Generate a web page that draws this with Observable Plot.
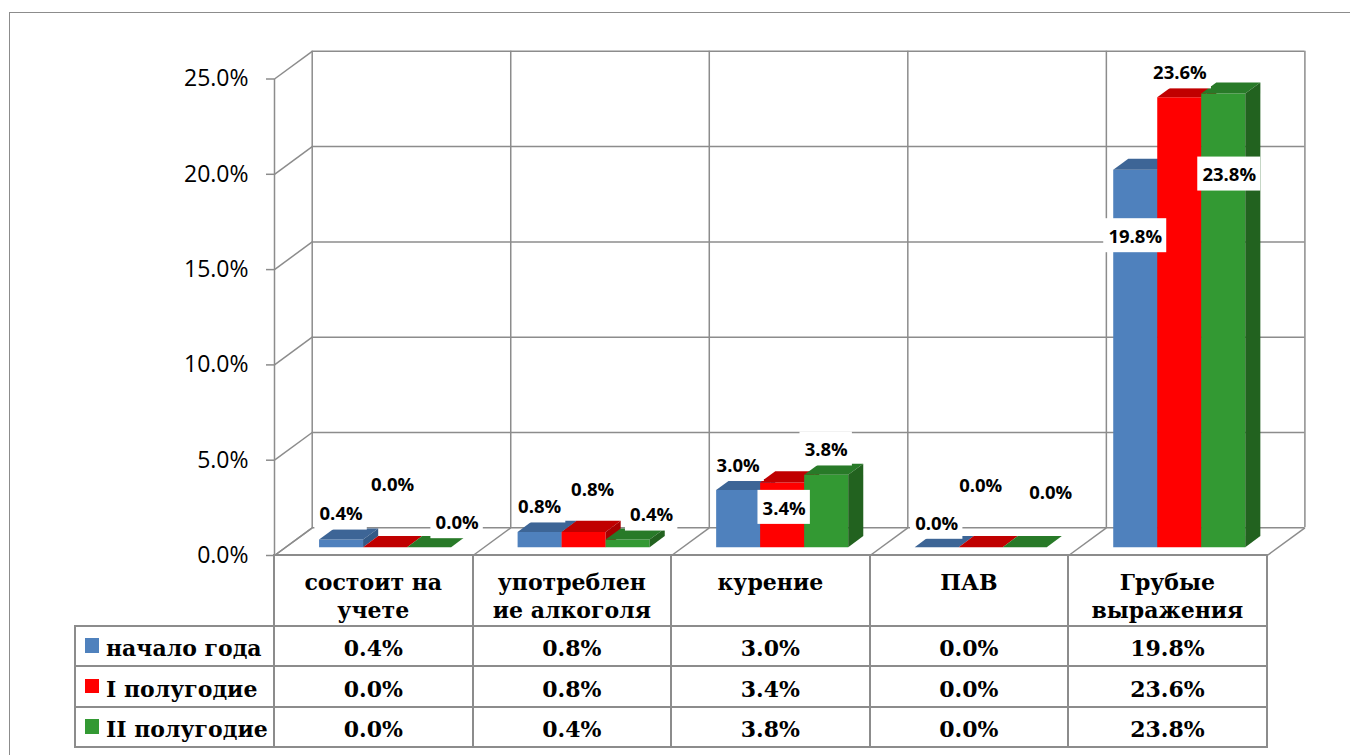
<!DOCTYPE html>
<html><head><meta charset="utf-8">
<script src="https://cdn.jsdelivr.net/npm/d3@7"></script>
<script src="https://cdn.jsdelivr.net/npm/@observablehq/plot@0.6"></script>
<style>
body{margin:0;background:#fff;}
#page{position:relative;width:1350px;height:755px;overflow:hidden;background:#fff;}
#frame{position:absolute;left:9px;top:12px;width:1400px;height:800px;border:1.5px solid #8c8c8c;box-sizing:border-box;}
#chart{position:absolute;left:0;top:0;}
#table{position:absolute;left:0;top:0;}
.tl{position:absolute;background:#8c8c8c;}
.cell{position:absolute;font-family:"DejaVu Serif";font-weight:bold;font-size:22px;color:#000;text-align:center;white-space:nowrap;}
.leg{position:absolute;font-family:"DejaVu Serif";font-weight:bold;font-size:22px;color:#000;white-space:nowrap;}
.sw{position:absolute;width:14.5px;height:14.5px;}
</style></head>
<body><div id="page"><div id="frame"></div><div id="chart"></div><div id="table"></div></div>
<script>
// ---- data ----
const categories = ["состоит на\nучете", "употреблен\nие алкоголя", "курение", "ПАВ", "Грубые\nвыражения"];
const seriesNames = ["начало года", "I полугодие", "II полугодие"];
const nachaloGoda = [0.4, 0.8, 3.0, 0.0, 19.8];
const polugodie1  = [0.0, 0.8, 3.4, 0.0, 23.6];
const polugodie2  = [0.0, 0.4, 3.8, 0.0, 23.8];
const yTicks = [0, 5, 10, 15, 20, 25];

// ---- styles / layout ----
const seriesColors = [
  {front: "#4F81BD", top: "#3D6596", side: "#345A87"},
  {front: "#FF0000", top: "#C00000", side: "#A80000"},
  {front: "#339933", top: "#287A28", side: "#22621F"}
];
const gridColor = "#8c8c8c";
// label nudges in pixels relative to the top-front centre of each bar
const labelShiftX = [[0, 0, 0, 0, 0], [7.5, 9, 2, 0, 0.7], [28, 24, 0, 26, 6]];
const labelShiftY = [[-25, -24.5, -24, -23.4, 67.4], [-62, -41.5, 26.5, -61, -24], [-24, -24, -24.3, -54, 82]];

const W = 1350, H = 590;
const M = {left: 274, right: 83.3, top: 78.5, bottom: 35};
const PXU = (W - M.left - M.right) / categories.length;  // px per category unit
const PXV = (H - M.top - M.bottom) / 25;                 // px per percent
const depthPx = {dx: 37.7, dy: 27.7};
const DX = depthPx.dx / PXU, DY = depthPx.dy / PXV;
const barFront = 0.3, barBack = 0.7, gap = 0.1675, bw = 0.2217;
const P = (u, v, w) => ({x: u + w * DX, y: v + w * DY});

const values = [nachaloGoda, polugodie1, polugodie2];
const nCat = categories.length;

// faces of 3D bars
const faces = [];
let fid = 0;
categories.forEach((c, k) => values.forEach((vals, s) => {
  const v = vals[k], col = seriesColors[s];
  const u0 = k + gap + s * bw, u1 = u0 + bw;
  const poly = (pts, fill) => { fid++; pts.forEach(p => faces.push({...P(...p), id: fid, fill})); };
  poly([[u0, 0, barFront], [u1, 0, barFront], [u1, v, barFront], [u0, v, barFront]], col.front);
  poly([[u0, v, barFront], [u1, v, barFront], [u1, v, barBack], [u0, v, barBack]], col.top);
  poly([[u1, 0, barFront], [u1, v, barFront], [u1, v, barBack], [u1, 0, barBack]], col.side);
}));

// labels
const labels = [];
values.forEach((vals, s) => vals.forEach((v, k) => {
  const uc = k + gap + (s + 0.5) * bw;
  const base = P(uc, v, barFront);
  const txt = v.toFixed(1) + "%";
  const x = base.x + labelShiftX[s][k] / PXU;
  const y = base.y - labelShiftY[s][k] / PXV;
  const hw = (10 + 10.6 * txt.length) / 2 / PXU, hh = 17 / PXV, yc = y + 1.5 / PXV;
  labels.push({x, y, txt, x1: x - hw, x2: x + hw, y1: yc - hh, y2: yc + hh});
}));

const cats = d3.range(nCat + 1);
const gs = {stroke: gridColor, strokeWidth: 1.5};

const chart = Plot.plot({
  width: W, height: H,
  marginLeft: M.left, marginRight: M.right, marginTop: M.top, marginBottom: M.bottom,
  style: {fontFamily: "Open Sans", fontSize: "23px", background: "transparent"},
  x: {type: "linear", domain: [0, nCat], axis: null},
  y: {type: "linear", domain: [0, 25], axis: null},
  marks: [
    Plot.ruleY(yTicks, {y: t => t + DY, x1: DX, x2: nCat + DX, ...gs}),
    Plot.link(yTicks, {x1: 0, y1: t => t, x2: DX, y2: t => t + DY, ...gs}),
    Plot.ruleX(cats, {x: u => u + DX, y1: DY, y2: 25 + DY, ...gs}),
    Plot.link(cats, {x1: u => u, y1: 0, x2: u => u + DX, y2: DY, ...gs}),
    Plot.ruleX([0], {y1: 0, y2: 25, ...gs}),
    Plot.line(faces, {x: "x", y: "y", z: "id", fill: "fill", stroke: "none", curve: "linear-closed"}),
    Plot.rect(labels, {x1: "x1", x2: "x2", y1: "y1", y2: "y2", fill: "white"}),
    Plot.text(labels, {x: "x", y: "y", text: "txt", fontFamily: "Open Sans", fontWeight: "bold", fontSize: 18.5, fill: "black"}),
    Plot.axisY({ticks: yTicks, tickFormat: d => d.toFixed(1) + "%", tickSize: 8, tickPadding: 18,
      fontSize: 23, fontFamily: "Open Sans", color: "black", stroke: gridColor, strokeWidth: 1.5, label: null})
  ]
});
document.getElementById("chart").appendChild(chart);

// ---- data table below the chart ----
const sx = u => chart.scale("x").apply(u);
const y0 = chart.scale("y").apply(0);
const tbl = document.getElementById("table");
const rowTops = [y0, y0 + 70.7, y0 + 111, y0 + 151.7, y0 + 191.7];
const lw = 2;
function add(cls, css, html) {
  const d = document.createElement("div");
  d.className = cls;
  Object.assign(d.style, css);
  if (html != null) d.innerHTML = html;
  tbl.appendChild(d);
  return d;
}
function hline(x1, x2, y) { add("tl", {left: (x1 - lw / 2) + "px", top: (y - lw / 2) + "px", width: (x2 - x1 + lw) + "px", height: lw + "px"}); }
function vline(x, y1, y2) { add("tl", {left: (x - lw / 2) + "px", top: (y1 - lw / 2) + "px", width: lw + "px", height: (y2 - y1 + lw) + "px"}); }

hline(sx(0), sx(nCat), rowTops[0]);
for (let r = 1; r < rowTops.length; r++) hline(sx(-1), sx(nCat), rowTops[r]);
vline(sx(-1), rowTops[1], rowTops[4]);
for (let k = 0; k <= nCat; k++) vline(sx(k), rowTops[0], rowTops[4]);

categories.forEach((c, k) => {
  add("cell", {left: sx(k) + "px", width: (sx(k + 1) - sx(k)) + "px", top: (rowTops[0] + 13.4) + "px", lineHeight: "28px"},
    c.split("\n").join("<br>"));
});
values.forEach((vals, s) => {
  const top = rowTops[s + 1];
  add("sw", {left: (sx(-1) + 9.5) + "px", top: (top + 12.5) + "px", background: seriesColors[s].front});
  add("leg", {left: (sx(-1) + 30.5) + "px", top: (top + 2.5) + "px", lineHeight: "40px"}, seriesNames[s]);
  vals.forEach((v, k) => {
    add("cell", {left: sx(k) + "px", width: (sx(k + 1) - sx(k)) + "px", top: (top + 2.5) + "px", lineHeight: "40px"}, v.toFixed(1) + "%");
  });
});
</script>
</body></html>
